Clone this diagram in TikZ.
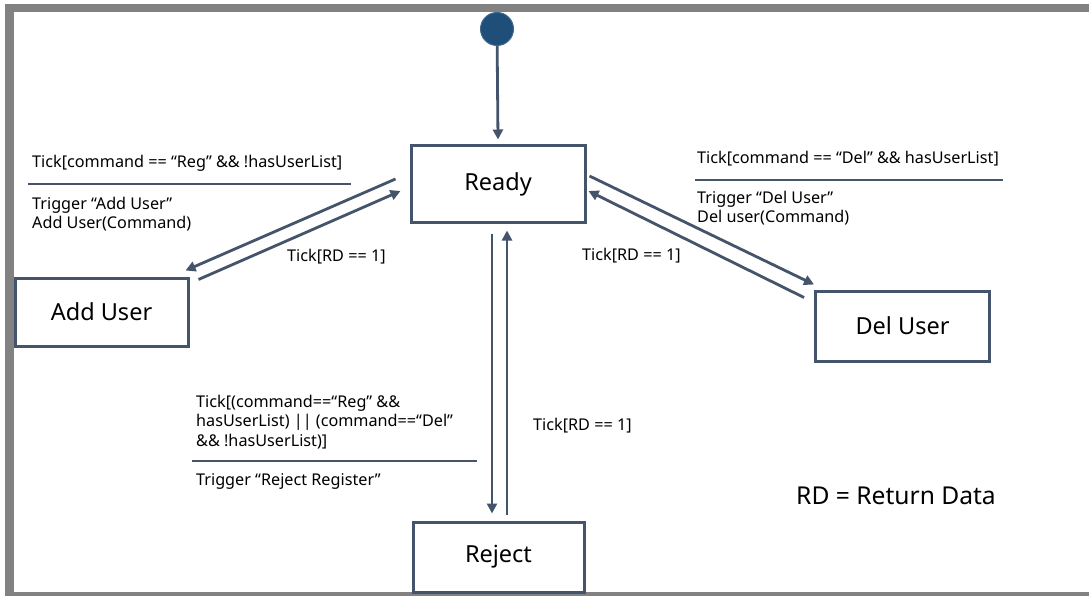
\documentclass[tikz,border=0pt]{standalone}
\usepackage{fontspec}
\setmainfont{Noto Sans}
\usetikzlibrary{arrows.meta}
\definecolor{ln}{HTML}{44546A}
\definecolor{framegray}{HTML}{828282}
\definecolor{dotblue}{HTML}{1F4E79}
\begin{document}
\begin{tikzpicture}[x=1pt,y=-1pt,
  state/.style={draw=ln, line width=3pt, fill=white, inner sep=0pt, font=\fontsize{23.5}{28}\selectfont},
  arr/.style={draw=ln, line width=2.8pt, -{Triangle[length=10pt,width=10pt]}},
  lbl/.style={inner sep=0pt, anchor=west, align=left, font=\fontsize{16.2}{19.5}\selectfont},
  guard/.style={draw=ln, line width=2.8pt}]
\useasboundingbox (0,0) rectangle (1089,596);
\clip (0,0) rectangle (1089,596);
\fill[white] (0,0) rectangle (1089,596);
\draw[framegray, line width=8.5pt] (9.5,8.2) rectangle (1120,596.2);

% states
\node[circle, fill=dotblue, draw=dotblue!85!white, line width=1pt, minimum size=33pt, inner sep=0pt] (init) at (497,29) {};
\node[state, minimum width=174pt, minimum height=76pt] (ready) at (498,184) {Ready};
\node[state, minimum width=173pt, minimum height=68pt] (add) at (101.5,312) {Add User};
\node[state, minimum width=174pt, minimum height=70pt] (del) at (902.5,326) {Del User};
\node[state, minimum width=171pt, minimum height=70pt] (reject) at (498.5,557) {Reject};

% transitions
\draw[arr] (init) -- ([shift={(0,-5)}]ready.north);
\draw[arr] ([shift={(-14,-5)}]ready.west) -- ([shift={(-4,-6)}]add.north east);
\draw[arr] ([shift={(9,3)}]add.north east) -- ([shift={(-9,7)}]ready.west);
\draw[arr] ([shift={(3,-8)}]ready.east) -- ([shift={(0,-5)}]del.north west);
\draw[arr] ([shift={(-10,8)}]del.north west) -- ([shift={(2,7)}]ready.east);
\draw[arr] ([shift={(-6,10)}]ready.south) -- ([shift={(-6.5,-7)}]reject.north);
\draw[arr] ([shift={(8.5,-6)}]reject.north) -- ([shift={(9,7)}]ready.south);

% guard labels
\node[lbl] (gadd) at (32,163) {Tick[command == “Reg” \&\& !hasUserList]};
\draw[guard] (28,184) -- (351,184);
\node[lbl] (tadd) at (32,214) {Trigger “Add User”\\Add User(Command)};
\node[lbl] (rdadd) at (287,257) {Tick[RD == 1]};

\node[lbl] (gdel) at (697,159) {Tick[command == “Del” \&\& hasUserList]};
\draw[guard] (695,180) -- (1003,180);
\node[lbl] (tdel) at (697,208) {Trigger “Del User”\\Del user(Command)};
\node[lbl] (rddel) at (582,256) {Tick[RD == 1]};

\node[lbl] (grej) at (196,422) {Tick[(command==“Reg” \&\&\\hasUserList) || (command==“Del”\\\&\& !hasUserList)]};
\draw[guard] (192,461) -- (477,461);
\node[lbl] (trej) at (196,481) {Trigger “Reject Register”};
\node[lbl] (rdrej) at (533,426) {Tick[RD == 1]};

\node[inner sep=0pt, anchor=west, font=\fontsize{24.6}{29}\selectfont] (legend) at (796,496) {RD = Return Data};
\end{tikzpicture}
\end{document}
